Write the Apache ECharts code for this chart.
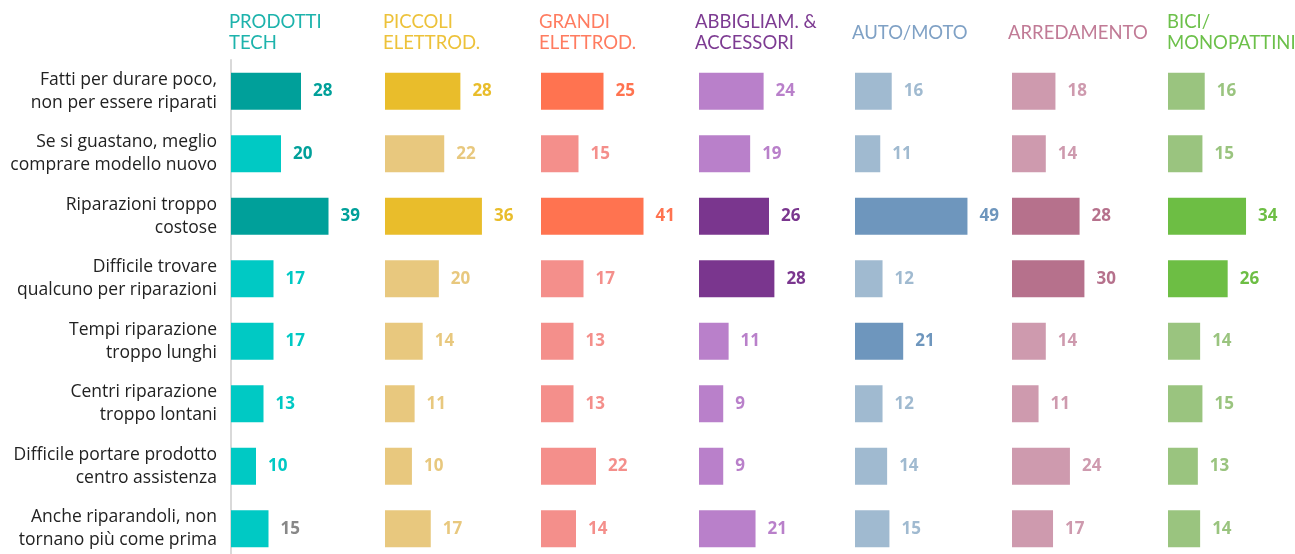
<!DOCTYPE html>
<html>
<head>
<meta charset="utf-8">
<script src="https://cdn.jsdelivr.net/npm/echarts@6/dist/echarts.min.js"></script>
<style>
  html, body { margin: 0; padding: 0; background: #fff; }
  #chart { width: 1295px; height: 554px; }
</style>
</head>
<body>
<div id="chart"></div>
<script>
// motivi (righe)
const reasons = [
  'Fatti per durare poco,\nnon per essere riparati',
  'Se si guastano, meglio\ncomprare modello nuovo',
  'Riparazioni troppo\ncostose',
  'Difficile trovare\nqualcuno per riparazioni',
  'Tempi riparazione\ntroppo lunghi',
  'Centri riparazione\ntroppo lontani',
  'Difficile portare prodotto\ncentro assistenza',
  'Anche riparandoli, non\ntornano più come prima'
];

// categorie (colonne)
const groups = ['PRODOTTI\nTECH', 'PICCOLI\nELETTROD.', 'GRANDI\nELETTROD.', 'ABBIGLIAM. &\nACCESSORI', 'AUTO/MOTO', 'ARREDAMENTO', 'BICI/\nMONOPATTINI'];

// valori per categoria
const tech = [28, 20, 39, 17, 17, 13, 10, 15];
const piccoli = [28, 22, 36, 20, 14, 11, 10, 17];
const grandi = [25, 15, 41, 17, 13, 13, 22, 14];
const abbigliam = [24, 19, 26, 28, 11, 9, 9, 21];
const auto = [16, 11, 49, 12, 21, 12, 14, 15];
const arredamento = [18, 14, 28, 30, 14, 11, 24, 17];
const bici = [16, 15, 34, 26, 14, 15, 13, 14];
const values = [tech, piccoli, grandi, abbigliam, auto, arredamento, bici];

// righe evidenziate per categoria
const highlights = [[0, 2], [0, 2], [0, 2], [2, 3], [2, 4], [2, 3], [2, 3]];

// colori: [scuro, chiaro, titolo]
const palette = [
  ['#00A09A', '#00C9C4', '#1DB3AC'],
  ['#E9BD2B', '#E8C87E', '#EDC23A'],
  ['#FF7350', '#F48F8B', '#FF7C60'],
  ['#7A368E', '#B980CA', '#7D3B92'],
  ['#6E96BD', '#A0BAD0', '#7FA1C5'],
  ['#B6718C', '#CE9AAE', '#C17B96'],
  ['#6DBE44', '#9AC47F', '#6CC04A']
];

const lefts = [231, 385, 541, 699, 855, 1012, 1168];
const titleLefts = [229, 383, 539, 695, 852, 1008, 1167];
const axisMax = [56, 52, 56, 52, 61, 58, 61];
const gridW = 140;

const grids = [], xAxes = [], yAxes = [], series = [], titles = [];

groups.forEach((g, i) => {
  grids.push({ left: lefts[i], top: 60, width: gridW, height: 500, outerBoundsMode: 'none' });
  xAxes.push({ type: 'value', gridIndex: i, min: 0, max: axisMax[i], show: false });
  yAxes.push({
    type: 'category', gridIndex: i, data: reasons, inverse: true,
    axisTick: { show: false },
    axisLine: { show: i === 0, lineStyle: { color: '#D9D9D9', width: 2 } },
    axisLabel: {
      show: i === 0, margin: 14, fontFamily: 'Open Sans', fontSize: 17.5,
      lineHeight: 23, color: '#222', align: 'right'
    }
  });
  const labelColor = (r, hl) => {
    if (i === 0 && r === 7) return '#888888';
    if (i === 0 && r === 1) return palette[0][0];
    return hl ? palette[i][0] : palette[i][1];
  };
  series.push({
    type: 'bar', xAxisIndex: i, yAxisIndex: i, barWidth: 37,
    data: values[i].map((v, r) => {
      const hl = highlights[i].includes(r);
      return {
        value: v,
        itemStyle: { color: hl ? palette[i][0] : palette[i][1] },
        label: { color: labelColor(r, hl) }
      };
    }),
    label: {
      show: true, position: 'right', distance: 12,
      fontFamily: 'Open Sans', fontWeight: 'bold', fontSize: 17
    },
    silent: true
  });
  const oneLine = g.indexOf('\n') < 0;
  titles.push({
    text: g, left: titleLefts[i], top: oneLine ? 23 : 12, padding: 0,
    textStyle: {
      fontFamily: 'Lato', fontWeight: 'normal', fontSize: 18.5,
      lineHeight: 21, color: palette[i][2]
    }
  });
});

const chart = echarts.init(document.getElementById('chart'));
chart.setOption({
  animation: false,
  title: titles,
  grid: grids,
  xAxis: xAxes,
  yAxis: yAxes,
  series: series
});
</script>
</body>
</html>
